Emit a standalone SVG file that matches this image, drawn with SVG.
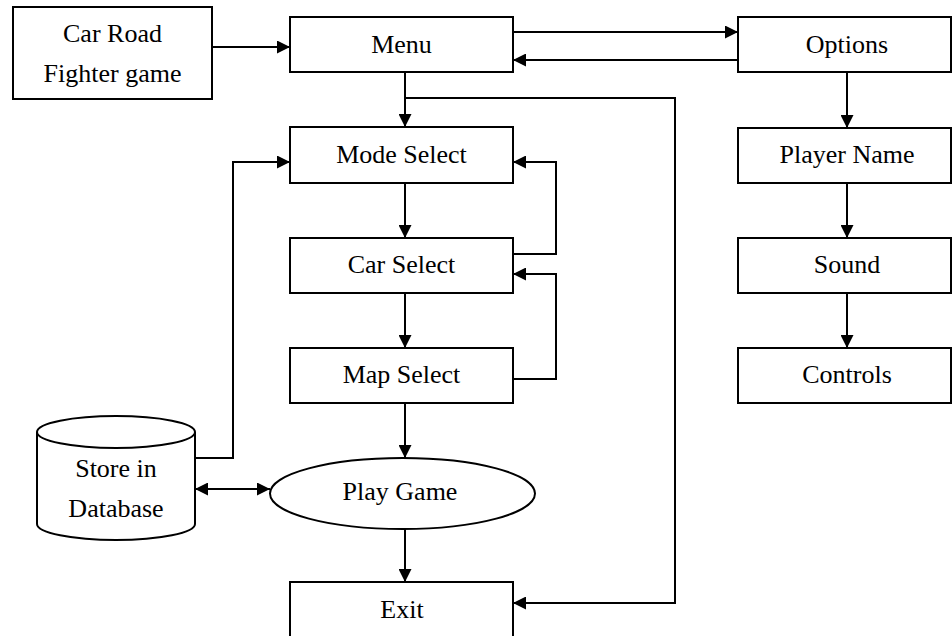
<svg xmlns="http://www.w3.org/2000/svg" width="952" height="636" viewBox="0 0 952 636">
<style>
.box{fill:#fff;stroke:#000;stroke-width:2}
.t{font-family:"Liberation Serif","Times New Roman",serif;font-size:26px;fill:#000;text-anchor:middle}
.c{fill:none;stroke:#000;stroke-width:2}
</style>
<defs>
<marker id="ah" markerUnits="userSpaceOnUse" markerWidth="14" markerHeight="13" refX="13" refY="6.5" orient="auto-start-reverse">
<path d="M0,0 L13,6.5 L0,13 z" fill="#000"/>
</marker>
</defs>
<rect width="952" height="636" fill="#fff"/>
<g id="connectors">
<path class="c" d="M212,47 H290" marker-end="url(#ah)"/>
<path class="c" d="M513,32 H738" marker-end="url(#ah)"/>
<path class="c" d="M738,60 H513" marker-end="url(#ah)"/>
<path class="c" d="M405,72 V127" marker-end="url(#ah)"/>
<path class="c" d="M405,98 H675 V603 H513" marker-end="url(#ah)"/>
<path class="c" d="M405,183 V238" marker-end="url(#ah)"/>
<path class="c" d="M405,293 V348" marker-end="url(#ah)"/>
<path class="c" d="M405,403 V458" marker-end="url(#ah)"/>
<path class="c" d="M405,529 V582" marker-end="url(#ah)"/>
<path class="c" d="M513,254 H556 V162 H513" marker-end="url(#ah)"/>
<path class="c" d="M513,379 H556 V274 H513" marker-end="url(#ah)"/>
<path class="c" d="M195,458 H233 V162 H290" marker-end="url(#ah)"/>
<path class="c" d="M195,489 H270" marker-start="url(#ah)" marker-end="url(#ah)"/>
<path class="c" d="M847,72 V128" marker-end="url(#ah)"/>
<path class="c" d="M847,183 V238" marker-end="url(#ah)"/>
<path class="c" d="M847,293 V348" marker-end="url(#ah)"/>
</g>
<g id="car-road">
<rect class="box" x="13" y="7" width="199" height="92"/>
<text class="t" x="112.5" y="42">Car Road</text>
<text class="t" x="112.5" y="82">Fighter game</text>
</g>
<g id="menu">
<rect class="box" x="290" y="17" width="223" height="55"/>
<text class="t" x="401.5" y="53">Menu</text>
</g>
<g id="options">
<rect class="box" x="738" y="17" width="213" height="55"/>
<text class="t" x="847" y="53">Options</text>
</g>
<g id="player-name">
<rect class="box" x="738" y="128" width="213" height="55"/>
<text class="t" x="847" y="163">Player Name</text>
</g>
<g id="sound">
<rect class="box" x="738" y="238" width="213" height="55"/>
<text class="t" x="847" y="273">Sound</text>
</g>
<g id="controls">
<rect class="box" x="738" y="348" width="213" height="55"/>
<text class="t" x="847" y="383">Controls</text>
</g>
<g id="mode-select">
<rect class="box" x="290" y="127" width="223" height="56"/>
<text class="t" x="401.5" y="163">Mode Select</text>
</g>
<g id="car-select">
<rect class="box" x="290" y="238" width="223" height="55"/>
<text class="t" x="401.5" y="273">Car Select</text>
</g>
<g id="map-select">
<rect class="box" x="290" y="348" width="223" height="55"/>
<text class="t" x="401.5" y="383">Map Select</text>
</g>
<g id="play-game">
<ellipse class="box" cx="402.5" cy="493.5" rx="132.5" ry="35.5"/>
<text class="t" x="400" y="500">Play Game</text>
</g>
<g id="exit">
<rect class="box" x="290" y="582" width="223" height="60"/>
<text class="t" x="402" y="618">Exit</text>
</g>
<g id="database">
<path class="box" d="M37,432 V524 A79,16 0 0 0 195,524 V432"/>
<ellipse class="box" cx="116" cy="432" rx="79" ry="16"/>
<text class="t" x="116" y="477">Store in</text>
<text class="t" x="116" y="517">Database</text>
</g>
</svg>
